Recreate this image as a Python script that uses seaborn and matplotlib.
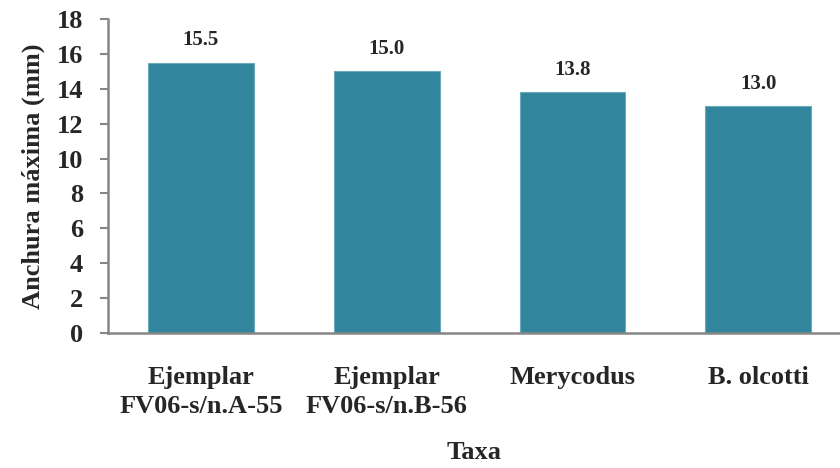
import matplotlib
matplotlib.use("Agg")
import matplotlib.pyplot as plt
import seaborn as sns
import pandas as pd

taxa = ["Ejemplar\nFV06-s/n.A-55", "Ejemplar\nFV06-s/n.B-56", "Merycodus", "B. olcotti"]
anchura = [15.5, 15.0, 13.8, 13.0]
yticks = [0, 2, 4, 6, 8, 10, 12, 14, 16, 18]

sns.set_theme(style="white")
plt.rcParams["font.family"] = ["Liberation Serif", "DejaVu Serif"]
plt.rcParams["font.weight"] = "bold"

df = pd.DataFrame({"Taxa": taxa, "Anchura": anchura})

fig = plt.figure(figsize=(8.4, 4.68), dpi=100)
ax = fig.add_axes([108 / 840, 1 - 333 / 468, 1 - 108 / 840, (333 - 19) / 468])

sns.barplot(data=df, x="Taxa", y="Anchura", color="#31859C", saturation=1,
            width=0.57, edgecolor="#6aaabb", linewidth=0.8, ax=ax)

ax.bar_label(ax.containers[0], labels=[f"{v:.1f}" for v in anchura],
             padding=9, fontsize=15, fontweight="bold")

ax.set_xlim(-0.5, 3.44)
ax.set_ylim(0, 18)
ax.set_yticks(yticks)
ax.set_yticklabels([str(t) for t in yticks], fontsize=19, fontweight="bold")
ax.set_xticks(range(len(taxa)))
ax.set_xticklabels(taxa, fontsize=19, fontweight="bold", linespacing=1.3)

ax.set_ylabel("Anchura máxima (mm)", fontsize=19, fontweight="bold", labelpad=8)
ax.set_xlabel("Taxa", fontsize=19, fontweight="bold", labelpad=17)

for side in ["top", "right"]:
    ax.spines[side].set_visible(False)
for side in ["left", "bottom"]:
    ax.spines[side].set_color("#868686")
    ax.spines[side].set_linewidth(1.8)

ax.tick_params(axis="y", which="major", direction="out", length=6, width=1.5,
               color="#868686", left=True, pad=12)
ax.tick_params(axis="x", length=0, pad=24)

fig.savefig("out.png", dpi=100)
